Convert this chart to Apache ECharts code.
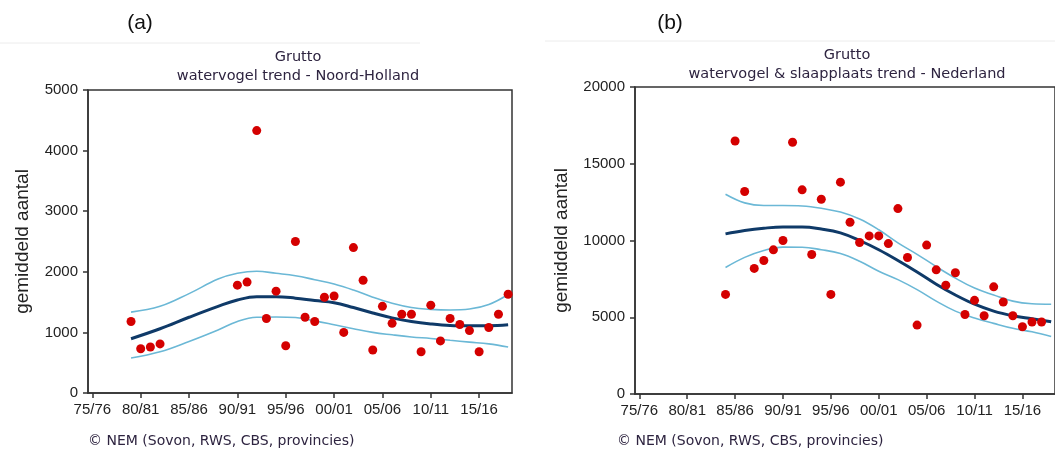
<!DOCTYPE html>
<html>
<head>
<meta charset="utf-8">
<script src="https://cdn.jsdelivr.net/npm/echarts@6/dist/echarts.min.js"></script>
<style>
  html, body { margin: 0; padding: 0; background: #fff; }
  #chart { width: 1055px; height: 457px; }
</style>
</head>
<body>
<div id="chart"></div>
<script>
// tick positions (season start year) and labels
const xTickYears = [1975, 1980, 1985, 1990, 1995, 2000, 2005, 2010, 2015];
const xTickLabels = ["75/76", "80/81", "85/86", "90/91", "95/96", "00/01", "05/06", "10/11", "15/16"];

// (a) Noord-Holland counts
const yearsA = [1979, 1980, 1981, 1982, 1990, 1991, 1992, 1993, 1994, 1995, 1996, 1997, 1998, 1999,
    2000, 2001, 2002, 2003, 2004, 2005, 2006, 2007, 2008, 2009, 2010, 2011, 2012, 2013, 2014, 2015,
    2016, 2017, 2018];
const countsA = [1180, 730, 760, 810, 1780, 1830, 4330, 1230, 1680, 780, 2500, 1250, 1180, 1580,
    1600, 1000, 2400, 1860, 710, 1430, 1150, 1300, 1300, 680, 1450, 860, 1230, 1130, 1030, 680,
    1080, 1300, 1630];
const trendYearsA = [1979, 1982, 1985, 1988, 1990, 1992, 1994, 1996, 1998, 2000, 2002, 2004, 2006, 2008, 2010, 2012, 2014, 2016, 2018];
const trendA = [896, 1060, 1250, 1430, 1535, 1590, 1590, 1565, 1525, 1490, 1410, 1320, 1240, 1180, 1140, 1115, 1110, 1110, 1125];
const upperA = [1335, 1430, 1640, 1880, 1975, 2010, 1975, 1935, 1870, 1800, 1700, 1580, 1480, 1410, 1380, 1370, 1385, 1460, 1625];
const lowerA = [577, 680, 850, 1040, 1180, 1250, 1255, 1245, 1190, 1126, 1060, 1000, 960, 925, 900, 870, 840, 810, 758];

// (b) Nederland counts
const yearsB = [1984, 1985, 1986, 1987, 1988, 1989, 1990, 1991, 1992, 1993, 1994, 1995, 1996, 1997,
    1998, 1999, 2000, 2001, 2002, 2003, 2004, 2005, 2006, 2007, 2008, 2009, 2010, 2011, 2012, 2013,
    2014, 2015, 2016, 2017];
const countsB = [6490, 16480, 13190, 8180, 8700, 9390, 10000, 16400, 13300, 9090, 12690, 6490, 13800, 11190,
    9870, 10300, 10300, 9800, 12080, 8890, 4490, 9700, 8090, 7090, 7900, 5180, 6100, 5100, 6980, 5990,
    5100, 4380, 4690, 4690];
const trendYearsB = [1984, 1986, 1988, 1990, 1992, 1994, 1996, 1998, 2000, 2002, 2004, 2006, 2008, 2010, 2012, 2014, 2016, 2018];
const trendB = [10430, 10650, 10800, 10880, 10880, 10750, 10500, 10000, 9400, 8700, 7950, 7150, 6450, 5850, 5400, 5100, 4900, 4700];
const upperB = [13010, 12450, 12280, 12280, 12250, 12100, 11850, 11400, 10700, 9850, 9100, 8300, 7550, 6900, 6450, 6050, 5880, 5850];
const lowerB = [8240, 8900, 9350, 9570, 9560, 9400, 9150, 8650, 8000, 7450, 6800, 6050, 5400, 4950, 4600, 4280, 4050, 3750];

const pairs = (xs, ys) => xs.map((x, i) => [x, ys[i]]);

const axisColor = "#333";
const tickFont = { fontFamily: "Liberation Sans, Arial, sans-serif", fontSize: 15, color: "#222" };

function xAxis(gridIndex) {
    return {
        type: "value", gridIndex: gridIndex, min: 1974.55, max: 2018.4,
        axisLine: { show: true, onZero: false, lineStyle: { color: axisColor, width: 1.5 } },
        axisTick: { show: true, inside: false, length: 5, customValues: xTickYears, lineStyle: { color: axisColor, width: 1.5 } },
        axisLabel: Object.assign({
            customValues: xTickYears, margin: 9,
            formatter: v => xTickLabels[xTickYears.indexOf(Math.round(v))] || ""
        }, tickFont),
        splitLine: { show: false }
    };
}

function yAxis(gridIndex, max, interval, gap) {
    return {
        type: "value", gridIndex: gridIndex, min: 0, max: max, interval: interval,
        name: "gemiddeld aantal", nameLocation: "middle", nameGap: gap, nameRotate: 90,
        nameTextStyle: { fontFamily: "Liberation Sans, Arial, sans-serif", fontSize: 19, color: "#222" },
        axisLine: { show: true, lineStyle: { color: axisColor, width: 1.5 } },
        axisTick: { show: true, inside: false, length: 5, lineStyle: { color: axisColor, width: 1.5 } },
        axisLabel: Object.assign({ margin: 10, formatter: v => String(v) }, tickFont),
        splitLine: { show: false }
    };
}

function scatter(idx, xs, ys) {
    return {
        type: "scatter", xAxisIndex: idx, yAxisIndex: idx, data: pairs(xs, ys),
        symbolSize: 9, itemStyle: { color: "#d40000", opacity: 1 }, z: 5
    };
}

function line(idx, xs, ys, color, width) {
    return {
        type: "line", xAxisIndex: idx, yAxisIndex: idx, data: pairs(xs, ys),
        smooth: 0.4, showSymbol: false, lineStyle: { color: color, width: width }, z: 3
    };
}

const titleFont = "DejaVu Sans, Verdana, sans-serif";
const chart = echarts.init(document.getElementById("chart"));
chart.setOption({
    animation: false,
    title: [
        { text: "(a)", left: 135, top: 8, textAlign: "center",
          textStyle: { fontFamily: "Liberation Sans, Arial", fontSize: 21, fontWeight: "normal", color: "#111" } },
        { text: "(b)", left: 665, top: 8, textAlign: "center",
          textStyle: { fontFamily: "Liberation Sans, Arial", fontSize: 21, fontWeight: "normal", color: "#111" } },
        { text: "Grutto\nwatervogel trend - Noord-Holland", left: 293, top: 43, textAlign: "center",
          textStyle: { fontFamily: titleFont, fontSize: 14.5, fontWeight: "normal", color: "#2e2440", lineHeight: 19, align: "center" } },
        { text: "Grutto\nwatervogel & slaapplaats trend - Nederland", left: 842, top: 41, textAlign: "center",
          textStyle: { fontFamily: titleFont, fontSize: 14.5, fontWeight: "normal", color: "#2e2440", lineHeight: 19, align: "center" } },
        { text: "© NEM (Sovon, RWS, CBS, provincies)", left: 83, top: 429,
          textStyle: { fontFamily: titleFont, fontSize: 14, fontWeight: "normal", color: "#2e2440" } },
        { text: "© NEM (Sovon, RWS, CBS, provincies)", left: 612, top: 429,
          textStyle: { fontFamily: titleFont, fontSize: 14, fontWeight: "normal", color: "#2e2440" } }
    ],
    graphic: [
        { type: "line", shape: { x1: 0, y1: 43, x2: 420, y2: 43 }, style: { stroke: "#ececec", lineWidth: 1 } },
        { type: "line", shape: { x1: 545, y1: 41, x2: 1055, y2: 41 }, style: { stroke: "#ececec", lineWidth: 1 } }
    ],
    grid: [
        { left: 88, top: 90, width: 424, height: 303, show: true, borderColor: axisColor, borderWidth: 1.5 },
        { left: 635, top: 87, right: -8, height: 307, show: true, borderColor: axisColor, borderWidth: 1.5 }
    ],
    xAxis: [xAxis(0), xAxis(1)],
    yAxis: [yAxis(0, 5000, 1000, 56), yAxis(1, 20000, 5000, 64)],
    series: [
        line(0, trendYearsA, upperA, "#6bb8d6", 1.6),
        line(0, trendYearsA, lowerA, "#6bb8d6", 1.6),
        line(0, trendYearsA, trendA, "#0f3a68", 3),
        scatter(0, yearsA, countsA),
        line(1, trendYearsB, upperB, "#6bb8d6", 1.6),
        line(1, trendYearsB, lowerB, "#6bb8d6", 1.6),
        line(1, trendYearsB, trendB, "#0f3a68", 3),
        scatter(1, yearsB, countsB)
    ]
});
</script>
</body>
</html>
